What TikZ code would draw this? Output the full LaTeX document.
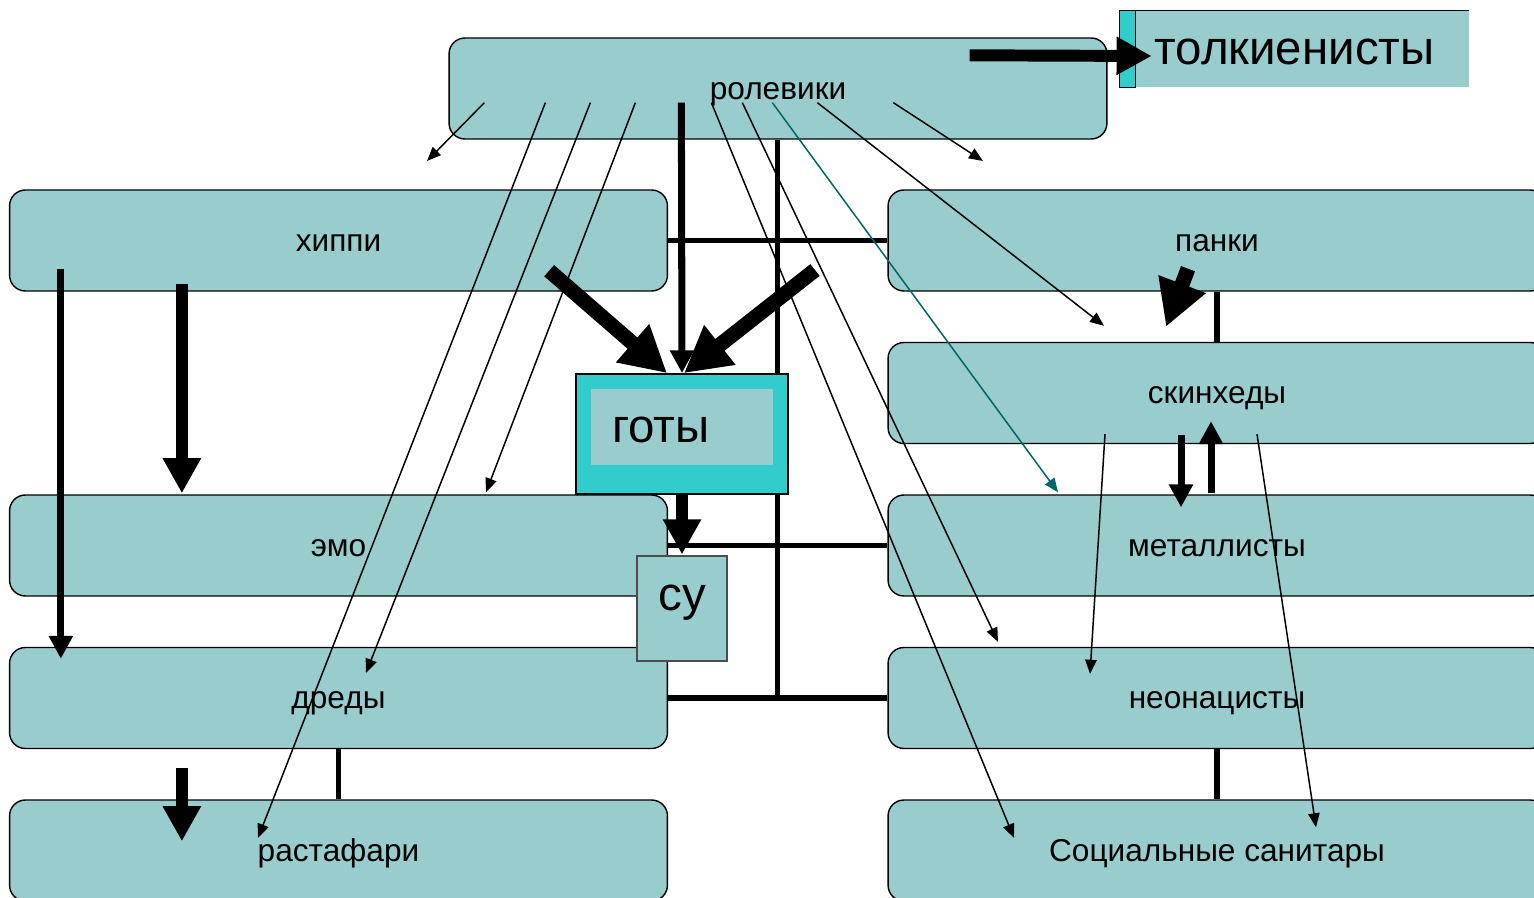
\documentclass[tikz,border=0pt]{standalone}
\usepackage{fontspec}
\setmainfont{Liberation Sans}
\usetikzlibrary{arrows.meta,calc}
\definecolor{boxteal}{RGB}{153,204,204}
\definecolor{gotcyan}{RGB}{51,204,204}
\definecolor{tealline}{RGB}{0,102,102}
\tikzset{
  group/.style={draw=black,line width=0.8pt,fill=boxteal,rounded corners=9pt,
    minimum width=13.16cm,minimum height=2.02cm,inner sep=0pt,
    text height=12pt,text depth=0pt,
    font=\fontsize{18}{20}\selectfont},
  bigtext/.style={font=\fontsize{27}{30}\selectfont,text height=17.5pt,text depth=0pt},
  link/.style={line width=3.1pt},
  thin arrow/.style={line width=0.85pt,-{Triangle[length=8pt,width=6.5pt]}},
  mid arrow/.style={line width=4pt,-{Triangle[length=13pt,width=13pt]}},
  fat arrow/.style={line width=6.8pt,-{Triangle[length=20pt,width=20.5pt]}},
  huge arrow/.style={line width=8.5pt,-{Triangle[length=26pt,width=27pt]}},
}
\begin{document}
\begin{tikzpicture}[x=0.02cm,y=-0.02cm]
\useasboundingbox (0,0) rectangle (1534,898);
\clip (0,0) rectangle (1534,898);
% groups
\node[group] (rol) at (778,88.5) {ролевики};
\node[bigtext,fill=boxteal,minimum width=6.98cm,minimum height=1.52cm,
  path picture={\fill[gotcyan] (path picture bounding box.north west) rectangle ([xshift=0.31cm]path picture bounding box.south west);}]
  (tolk) at (1294.5,49) {толкиенисты};
\draw[line width=0.6pt] (tolk.north east) -- (tolk.north west) -- (tolk.south west) -- ([xshift=0.31cm]tolk.south west) -- ([xshift=0.31cm]tolk.north west);
\node[group] (hippie) at (338.5,240.5) {хиппи};
\node[group] (emo) at (338.5,545.5) {эмо};
\node[group] (dread) at (338.5,698) {дреды};
\node[group] (rasta) at (338.5,850.5) {растафари};
\node[group] (punk) at (1217,240.5) {панки};
\node[group] (skin) at (1217,393) {скинхеды};
\node[group] (metal) at (1217,545.5) {металлисты};
\node[group] (neo) at (1217,698) {неонацисты};
\node[group] (san) at (1217,850.5) {Социальные санитары};
% links
\coordinate (trunk) at ($(dread.east)!.5!(neo.west)$);
\draw[link] (rol.south -| trunk) -- (trunk);
\draw[link] (hippie.east) -- (punk.west);
\draw[link] (emo.east) -- (metal.west);
\draw[link] (dread.east) -- (neo.west);
\draw[link] (dread.south) -- (rasta.north);
\draw[link] (punk.south) -- (skin.north);
\draw[link] (neo.south) -- (san.north);
% goths and su
\node[fill=gotcyan,draw=black,line width=1pt,minimum width=4.24cm,minimum height=2.4cm] (goty) at (682,434) {};
\node[bigtext,fill=boxteal,minimum width=3.64cm,minimum height=1.52cm,text width=2.8cm,inner xsep=0.42cm,align=left] (gotyin) at (682,427) {готы};
\node[bigtext,text height=14pt,text depth=12pt,fill=boxteal,draw=black!70,line width=0.6pt,minimum width=1.8cm,minimum height=2.1cm,inner sep=0pt] (su) at (682,608.5) {су};
% arrows from role players
\coordinate (hipgap) at (427,161);
\coordinate (punkgap) at (983,161);
\draw[thin arrow] ($(rol.south west)+(36,-37)$) -- (hipgap);
\draw[thin arrow] ($(rol.south west)+(97,-37)$) -- ($(rasta.center)+(-80.5,-12.5)$);
\draw[thin arrow] ($(rol.south west)+(142,-37)$) -- ($(dread.center)+(27.5,-25)$);
\draw[thin arrow] ($(rol.south west)+(187,-37)$) -- ($(emo.north)+(147.5,-2)$);
\draw[mid arrow] ($(rol.south west)+(233,-37)$) -- (goty.north);
\draw[thin arrow] ($(rol.south west)+(263,-37)$) -- ($(san.center)+(-203,-12.5)$);
\draw[thin arrow] ($(rol.south west)+(294,-37)$) -- ($(neo.north)+(-219,-5)$);
\draw[thin arrow,draw=tealline,fill=tealline] ($(rol.south west)+(324,-37)$) -- ($(metal.north)+(-159,-2)$);
\draw[thin arrow] ($(rol.south west)+(369,-37)$) -- ($(skin.north)+(-113,-16)$);
\draw[thin arrow] ($(rol.south west)+(445,-37)$) -- (punkgap);
\draw[fat arrow] ($(rol.north east)+(-138,18)$) -- ($(tolk.west)+(32,7)$);
% into goths
\coordinate (gotright) at (815,270);
\draw[huge arrow] ($(hippie.south east)+(-119,-21)$) -- ($(goty.north)+(-15,0)$);
\draw[huge arrow] (gotright) -- ($(goty.north)+(2,0)$);
\draw[fat arrow] (goty.south) -- ($(su.north)+(0,-1)$);
% left column
\draw[mid arrow] ($(hippie.south west)+(52,-23)$) -- ($(dread.north west)+(52,12)$);
\draw[fat arrow] ($(hippie.south west)+(173,-8)$) -- ($(emo.north west)+(173,-1)$);
\draw[fat arrow] ($(dread.south west)+(173,19)$) -- ($(rasta.north west)+(173,42)$);
% right column
\draw[huge arrow] ($(punk.south)+(-29,-23)$) -- ($(skin.north)+(-51,-15)$);
\draw[mid arrow] ($(skin.south)+(-36,-9)$) -- ($(metal.north)+(-36,13)$);
\draw[mid arrow] ($(metal.north)+(-6,-1)$) -- ($(skin.south)+(-6,-23)$);
\draw[thin arrow] ($(skin.south)+(-112,-10)$) -- ($(neo.north)+(-127,27)$);
\draw[thin arrow] ($(skin.south)+(40,-10)$) -- ($(san.north)+(99,28)$);
\end{tikzpicture}
\end{document}
